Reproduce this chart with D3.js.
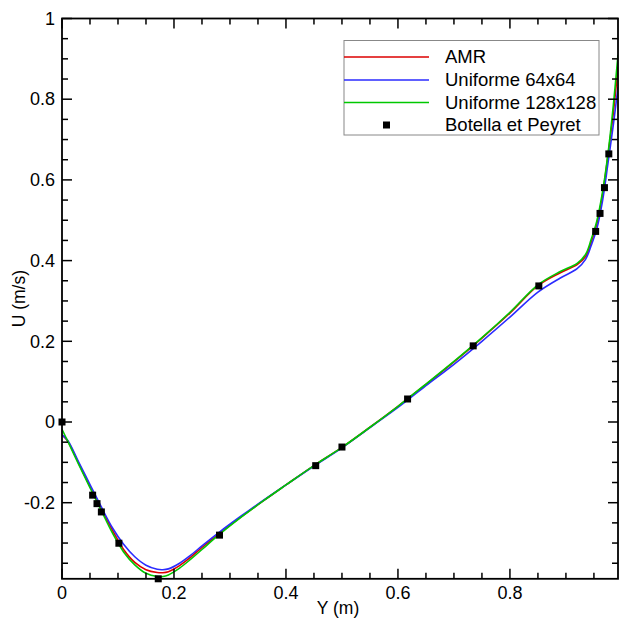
<!DOCTYPE html>
<html><head><meta charset="utf-8">
<script src="https://cdn.jsdelivr.net/npm/d3@7"></script>
<style>body{margin:0;background:#fff}svg{display:block;font-family:"Liberation Sans",Arial,sans-serif}</style>
</head><body><svg id="c" width="619" height="624"></svg>
<script>
const xGrid = [0,0.01,0.03,0.05,0.07,0.09,0.11,0.13,0.15,0.17,0.18,0.19,0.21,0.23,0.25,0.28,0.32,0.36,0.40,0.45,0.50,0.55,0.60,0.65,0.70,0.75,0.80,0.85,0.89,0.92,0.935,0.945,0.955,0.965,0.975,0.985,0.993];
const amr =   [-0.032,-0.047,-0.103,-0.160,-0.215,-0.268,-0.316,-0.348,-0.366,-0.373,-0.3735,-0.371,-0.356,-0.335,-0.311,-0.277,-0.235,-0.195,-0.156,-0.108,-0.063,-0.013,0.039,0.093,0.149,0.208,0.270,0.338,0.370,0.390,0.410,0.445,0.490,0.560,0.660,0.770,0.880];
const uni64 = [-0.032,-0.045,-0.100,-0.155,-0.210,-0.262,-0.303,-0.334,-0.355,-0.365,-0.366,-0.364,-0.350,-0.330,-0.307,-0.274,-0.233,-0.194,-0.156,-0.109,-0.064,-0.014,0.036,0.090,0.143,0.200,0.260,0.322,0.357,0.380,0.403,0.437,0.478,0.545,0.640,0.740,0.830];
const uni128 =[-0.018,-0.047,-0.106,-0.163,-0.219,-0.275,-0.322,-0.354,-0.375,-0.383,-0.383,-0.379,-0.362,-0.340,-0.316,-0.280,-0.236,-0.195,-0.156,-0.108,-0.063,-0.013,0.039,0.094,0.150,0.209,0.272,0.340,0.373,0.393,0.415,0.452,0.497,0.567,0.664,0.790,0.910];
const refY = [0,0.0547,0.0625,0.0703,0.1016,0.1719,0.2813,0.4531,0.5,0.6172,0.7344,0.8516,0.9531,0.9609,0.9688,0.9766];
const refU = [0,-0.1812881,-0.20233,-0.2228955,-0.3004561,-0.3885691,-0.2803696,-0.1081999,-0.0620561,0.0570178,0.1886747,0.3372212,0.4723329,0.5169277,0.5808359,0.6644227];
const seriesNames = ["AMR","Uniforme 64x64","Uniforme 128x128","Botella et Peyret"];
const colors = ["#dd0000","#2b2bff","#00c800"];
const xMajor = [0,0.2,0.4,0.6,0.8];
const xMajorLabels = ["0","0.2","0.4","0.6","0.8"];
const yMajor = [-0.2,0,0.2,0.4,0.6,0.8,1];
const yMajorLabels = ["-0.2","0","0.2","0.4","0.6","0.8","1"];

const svg = d3.select("#c");
const L=62, R=618, T=18.5, B=578.8;
const x = d3.scaleLinear().domain([0,0.993]).range([L,R]);
const y = d3.scaleLinear().domain([-0.3886,1]).range([B,T]);

svg.append("defs").append("clipPath").attr("id","clip").append("rect")
  .attr("x",L).attr("y",T).attr("width",R-L).attr("height",B-T);

const g = svg.append("g").attr("clip-path","url(#clip)");
const line = d3.line().x(d=>x(d[0])).y(d=>y(d[1])).curve(d3.curveCatmullRom.alpha(0.5));
[amr,uni64,uni128].forEach((s,i)=>{
  g.append("path").attr("d",line(xGrid.map((v,j)=>[v,s[j]])))
   .attr("fill","none").attr("stroke",colors[i]).attr("stroke-width",1.6);
});

// ticks
const xMinor = d3.range(0,0.96,0.05);
const yMinor = d3.range(-0.35,1.001,0.05);
const isMaj = v => Math.abs(v/0.2 - Math.round(v/0.2))<1e-6;
const tk = svg.append("g").attr("stroke","#000").attr("stroke-width",1.5);
xMinor.forEach(v=>{
  const len = isMaj(v)?10:6;
  tk.append("line").attr("x1",x(v)).attr("x2",x(v)).attr("y1",B).attr("y2",B-len);
  tk.append("line").attr("x1",x(v)).attr("x2",x(v)).attr("y1",T).attr("y2",T+len);
});
yMinor.forEach(v=>{
  const len = isMaj(v)?10:6;
  tk.append("line").attr("y1",y(v)).attr("y2",y(v)).attr("x1",L).attr("x2",L+len);
  tk.append("line").attr("y1",y(v)).attr("y2",y(v)).attr("x1",R).attr("x2",R-len);
});
svg.append("rect").attr("x",L).attr("y",T).attr("width",R-L).attr("height",B-T)
  .attr("fill","none").attr("stroke","#000").attr("stroke-width",1.8);

svg.append("g").selectAll("rect").data(refY.map((v,i)=>[v,refU[i]])).enter().append("rect")
  .attr("x",d=>x(d[0])-3.5).attr("y",d=>y(d[1])-3.5).attr("width",7).attr("height",7).attr("fill","#000");

// labels
svg.selectAll("text.xl").data(xMajor).enter().append("text")
  .attr("x",d=>x(d)).attr("y",B+20).attr("text-anchor","middle").attr("font-size",18).text((d,i)=>xMajorLabels[i]);
svg.selectAll("text.yl").data(yMajor).enter().append("text")
  .attr("x",L-7).attr("y",d=>y(d)+6.3).attr("text-anchor","end").attr("font-size",18).text((d,i)=>yMajorLabels[i]);
svg.append("text").attr("x",(L+R)/2-2).attr("y",614).attr("text-anchor","middle").attr("font-size",17.5).text("Y (m)");
svg.append("text").attr("transform","translate(25,"+((T+B)/2)+") rotate(-90)").attr("text-anchor","middle").attr("font-size",17.5).text("U (m/s)");

// legend
const lg = svg.append("g");
lg.append("rect").attr("x",344).attr("y",40.5).attr("width",255).attr("height",94.5)
  .attr("fill","#fff").attr("stroke","#888").attr("stroke-width",1);
const ly = [57,80,102.5,125];
seriesNames.forEach((n,i)=>{
  if(i<3) lg.append("line").attr("x1",344).attr("x2",429).attr("y1",ly[i]).attr("y2",ly[i]).attr("stroke",colors[i]).attr("stroke-width",1.6);
  else lg.append("rect").attr("x",386.5-3.5).attr("y",ly[i]-3.5).attr("width",7).attr("height",7).attr("fill","#000");
  lg.append("text").attr("x",445).attr("y",ly[i]+6.3).attr("font-size",18.5).text(n);
});
</script></body></html>
